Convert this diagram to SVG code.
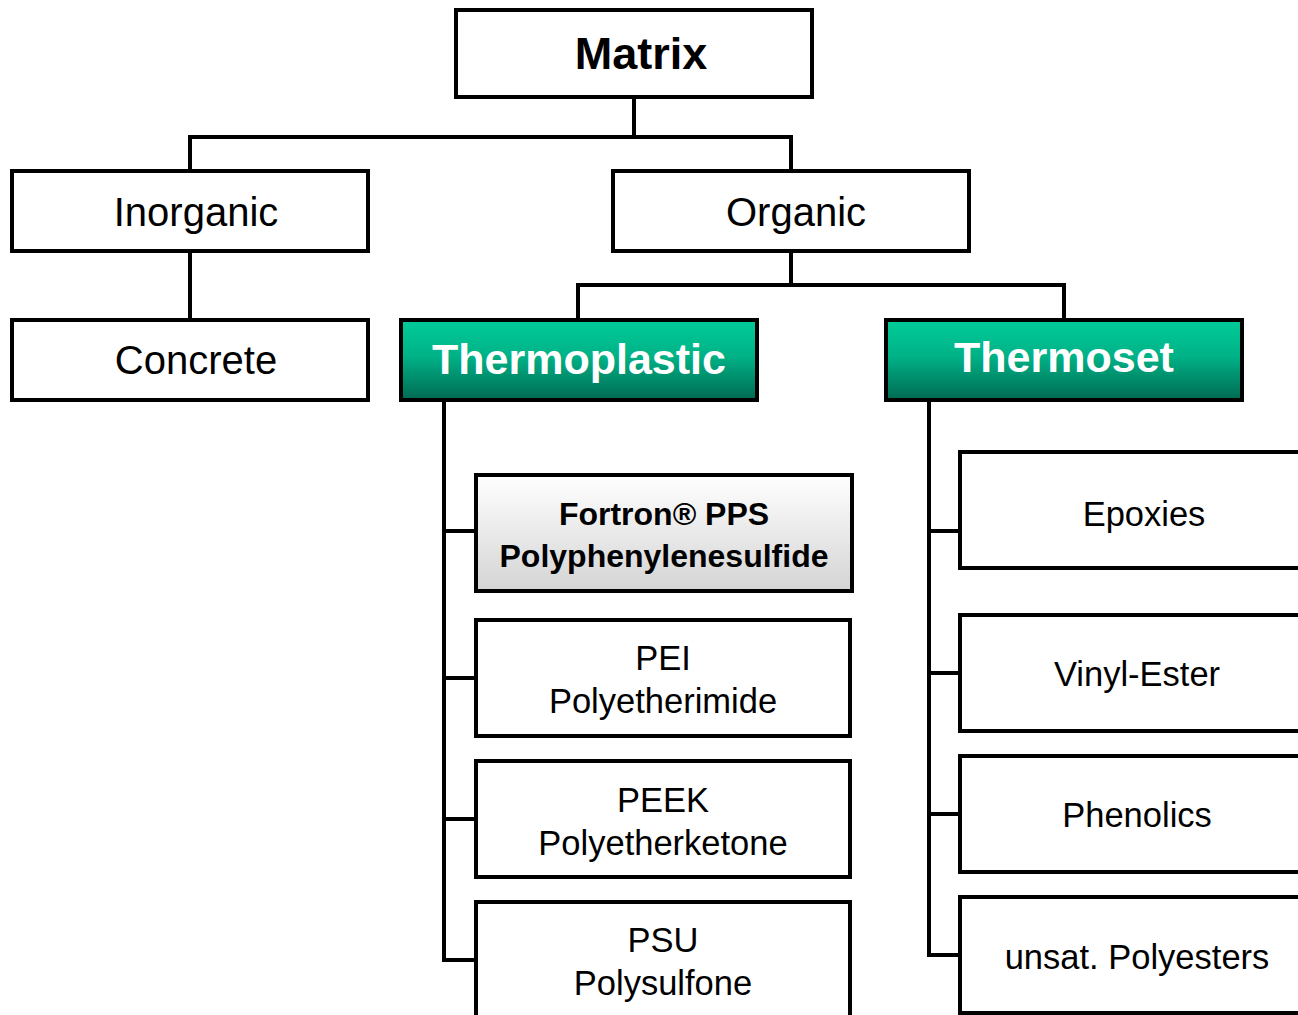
<svg xmlns="http://www.w3.org/2000/svg" width="1298" height="1015" viewBox="0 0 1298 1015">
<defs>
<linearGradient id="green" x1="0" y1="0" x2="0" y2="1">
<stop offset="0" stop-color="#00cc99"/>
<stop offset="0.45" stop-color="#00b287"/>
<stop offset="1" stop-color="#006a52"/>
</linearGradient>
<linearGradient id="gray" x1="0" y1="0" x2="0" y2="1">
<stop offset="0" stop-color="#ffffff"/>
<stop offset="1" stop-color="#d4d4d4"/>
</linearGradient>
</defs>
<style>
.box{fill:#fff;stroke:#000;stroke-width:4}
.gbox{fill:url(#green);stroke:#000;stroke-width:4}
.fbox{fill:url(#gray);stroke:#000;stroke-width:4}
.con{fill:none;stroke:#000;stroke-width:4;stroke-linejoin:miter}
text{font-family:"Liberation Sans",Arial,sans-serif;text-anchor:middle;fill:#000}
.t40{font-size:40px}
.tw{fill:#fff;font-weight:bold;font-size:43px}
.t34{font-size:34.5px}
.t32b{font-size:32px;font-weight:bold}
</style>
<rect width="1298" height="1015" fill="#fff"/>
<g id="connectors">
<path class="con" d="M634 97 V137 M190 171 V137 H791 V171"/>
<path class="con" d="M190 251 V320"/>
<path class="con" d="M791 251 V285 M578 320 V285 H1064 V320"/>
<path class="con" d="M444 400 V960 H476 M444 531 H476 M444 678 H476 M444 819 H476"/>
<path class="con" d="M929 400 V955 H960 M929 531 H960 M929 673 H960 M929 814 H960"/>
</g>
<g id="matrix"><rect class="box" x="456" y="10" width="356" height="87"/><text x="641" y="69" font-size="45" font-weight="bold">Matrix</text></g>
<g id="inorganic"><rect class="box" x="12" y="171" width="356" height="80"/><text class="t40" x="196" y="226">Inorganic</text></g>
<g id="organic"><rect class="box" x="613" y="171" width="356" height="80"/><text class="t40" x="796" y="226">Organic</text></g>
<g id="concrete"><rect class="box" x="12" y="320" width="356" height="80"/><text class="t40" x="196" y="374">Concrete</text></g>
<g id="thermoplastic"><rect class="gbox" x="401" y="320" width="356" height="80"/><text class="tw" x="579" y="374">Thermoplastic</text></g>
<g id="thermoset"><rect class="gbox" x="886" y="320" width="356" height="80"/><text class="tw" x="1064" y="372">Thermoset</text></g>
<g id="fortron"><rect class="fbox" x="476" y="475" width="376" height="116"/><text class="t32b" x="664" y="525">Fortron® PPS</text><text class="t32b" x="664" y="567">Polyphenylenesulfide</text></g>
<g id="pei"><rect class="box" x="476" y="620" width="374" height="116"/><text class="t34" x="663" y="670">PEI</text><text class="t34" x="663" y="713">Polyetherimide</text></g>
<g id="peek"><rect class="box" x="476" y="761" width="374" height="116"/><text class="t34" x="663" y="812">PEEK</text><text class="t34" x="663" y="855">Polyetherketone</text></g>
<g id="psu"><rect class="box" x="476" y="902" width="374" height="130"/><text class="t34" x="663" y="952">PSU</text><text class="t34" x="663" y="995">Polysulfone</text></g>
<g id="epoxies"><rect class="box" x="960" y="452" width="360" height="116"/><text class="t34" x="1144" y="526">Epoxies</text></g>
<g id="vinylester"><rect class="box" x="960" y="615" width="360" height="116"/><text class="t34" x="1137" y="686">Vinyl-Ester</text></g>
<g id="phenolics"><rect class="box" x="960" y="756" width="360" height="116"/><text class="t34" x="1137" y="827">Phenolics</text></g>
<g id="polyesters"><rect class="box" x="960" y="897" width="360" height="116"/><text class="t34" x="1137" y="969">unsat. Polyesters</text></g>
</svg>
